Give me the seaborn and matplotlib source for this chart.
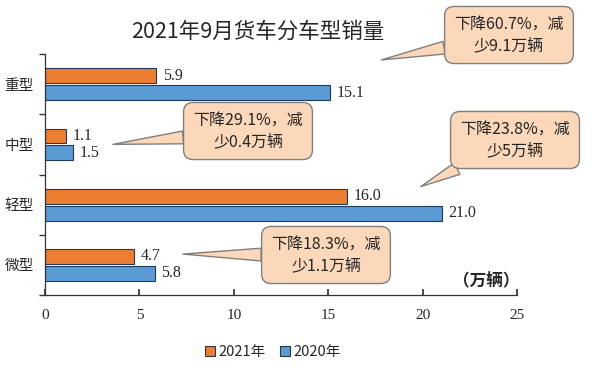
import pandas as pd
import numpy as np
import matplotlib
matplotlib.use("Agg")
import matplotlib.pyplot as plt
import seaborn as sns

# data
categories = ['重型', '中型', '轻型', '微型']
years = ['2021年', '2020年']
sales_2021 = [5.9, 1.1, 16.0, 4.7]
sales_2020 = [15.1, 1.5, 21.0, 5.8]
notes = ['下降60.7%，减\n少9.1万辆', '下降29.1%，减\n少0.4万辆',
         '下降23.8%，减\n少5万辆', '下降18.3%，减\n少1.1万辆']
xticks = [0, 5, 10, 15, 20, 25]

sns.set_theme(style='ticks')
plt.rcParams['font.family'] = ['Noto Sans CJK SC', 'DejaVu Sans']
plt.rcParams['axes.unicode_minus'] = False

df = pd.DataFrame({
    '车型': categories * 2,
    '销量': sales_2021 + sales_2020,
    '年份': [years[0]] * 4 + [years[1]] * 4,
})

fig = plt.figure(figsize=(6, 3.67), dpi=100)
ax = fig.add_axes([0.075, 0.196, 0.787, 0.657])

colors = {'2021年': '#ED7D31', '2020年': '#5B9BD5'}
sns.barplot(data=df, x='销量', y='车型', hue='年份', order=categories,
            hue_order=years, palette=colors, saturation=1, width=0.56, gap=0.12,
            edgecolor='#1f3a5f', linewidth=0.8, ax=ax, legend=False)

# value labels
for cont in ax.containers:
    for bar in cont:
        w = bar.get_width()
        ax.text(w + 0.35, bar.get_y() + bar.get_height() / 2, f'{w:.1f}',
                va='center', ha='left', fontsize=11.5,
                family=['Liberation Serif', 'DejaVu Serif'])

ax.set_xlim(0, 25)
ax.set_ylim(3.5, -0.5)
ax.set_xticks(xticks)
ax.set_xticklabels([str(t) for t in xticks], family=['Liberation Serif'], fontsize=11)
ax.tick_params(axis='x', direction='in', length=4, pad=10, color='#333333')
ax.set_yticks(range(len(categories)))
ax.set_yticklabels(categories, fontsize=10.5)
ax.tick_params(axis='y', which='major', length=0, pad=8)
ax.set_yticks(np.arange(-0.5, 4, 1), minor=True)
ax.tick_params(axis='y', which='minor', direction='out', length=4, color='#333333')
ax.set_xlabel('')
ax.set_ylabel('')
sns.despine(ax=ax)
for s in ['left', 'bottom']:
    ax.spines[s].set_color('#333333')
    ax.spines[s].set_linewidth(0.9)

ax.text(0.935, 0.055, '（万辆）', transform=ax.transAxes, ha='center',
        va='center', fontsize=12, fontweight='bold')

# callouts
tips = [(17.8, -0.4), (3.6, 1.0), (19.9, 1.7), (7.3, 2.82)]
boxes = [(509, 332), (248, 236), (515, 227), (326, 112)]
for note, tip, box in zip(notes, tips, boxes):
    ax.annotate(note, xy=tip, xycoords='data', xytext=box,
                textcoords='figure pixels', ha='center', va='center',
                fontsize=11.5, linespacing=1.3,
                bbox=dict(boxstyle='round,pad=0.6,rounding_size=0.6',
                          fc='#FBD8BA', ec='#7f7f7f', lw=1),
                arrowprops=dict(arrowstyle='wedge,tail_width=0.8,shrink_factor=0.5',
                                fc='#FBD8BA', ec='#7f7f7f', lw=1,
                                shrinkA=0, shrinkB=0))

fig.text(0.43, 1 - 32 / 367, '2021年9月货车分车型销量', ha='center',
         va='center', fontsize=15.5)

handles = [plt.Rectangle((0, 0), 1, 1, fc=colors[y], ec='#333333', lw=0.8)
           for y in years]
fig.legend(handles, years, loc='center', bbox_to_anchor=(0.455, 0.04),
           ncol=2, frameon=False, fontsize=10.5, handlelength=0.7,
           handleheight=0.7, handletextpad=0.2, columnspacing=1.0)

fig.savefig('out.png', dpi=100)
